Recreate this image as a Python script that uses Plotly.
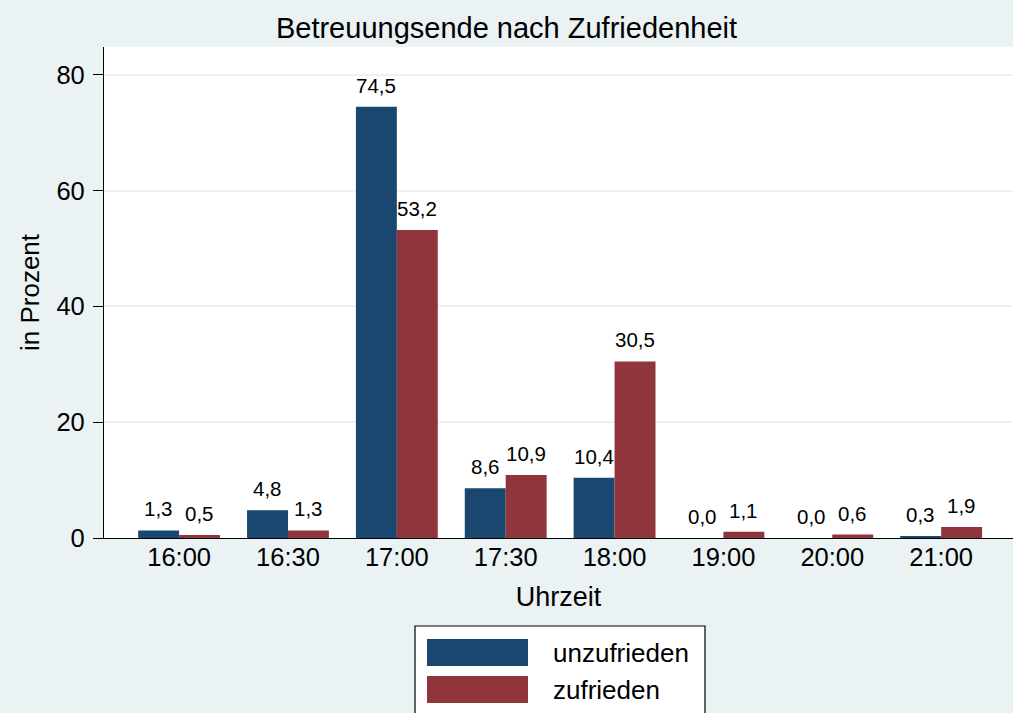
import plotly.graph_objects as go

categories = ["16:00", "16:30", "17:00", "17:30", "18:00", "19:00", "20:00", "21:00"]
unzufrieden = [1.3, 4.8, 74.5, 8.6, 10.4, 0.0, 0.0, 0.3]
zufrieden = [0.5, 1.3, 53.2, 10.9, 30.5, 1.1, 0.6, 1.9]
series_names = ["unzufrieden", "zufrieden"]
y_ticks = [0, 20, 40, 60, 80]

BLUE = "#1a476f"
RED = "#90353b"
BG = "#eaf2f3"
FONT = "Liberation Sans, Arial, Helvetica, sans-serif"

W, H = 1013, 713
L, R, T, B = 104, 0, 47, 175
pw, ph = W - L - R, H - T - B


def px(x):
    return (x - L) / pw


def py(y):
    return (H - B - y) / ph


def fmt(v):
    return f"{v:.1f}".replace(".", ",")


fig = go.Figure()
for name, vals, col in [(series_names[0], unzufrieden, BLUE), (series_names[1], zufrieden, RED)]:
    fig.add_trace(go.Bar(
        name=name, x=categories, y=vals,
        marker=dict(color=col, line=dict(width=0)),
        showlegend=False,
    ))

# value labels
bar_px = pw / (7.66 + 0.69) * 0.752 / 2
for vals, shift in [(unzufrieden, -bar_px / 2), (zufrieden, bar_px / 2)]:
    for c, v in zip(categories, vals):
        fig.add_annotation(
            x=c, y=v, xref="x", yref="y", text=fmt(v), showarrow=False,
            xshift=shift, yshift=8, yanchor="bottom",
            font=dict(size=20.5, color="black", family=FONT),
        )

# custom legend
fig.add_shape(type="rect", xref="paper", yref="paper",
              x0=px(415), x1=px(705), y0=py(730), y1=py(626),
              fillcolor="white", line=dict(color="black", width=1.2), layer="above")
for i, (name, col) in enumerate([(series_names[0], BLUE), (series_names[1], RED)]):
    top = 639 + i * 37
    fig.add_shape(type="rect", xref="paper", yref="paper",
                  x0=px(427), x1=px(528), y0=py(top + 27), y1=py(top),
                  fillcolor=col, line=dict(width=0), layer="above")
    fig.add_annotation(x=px(551), y=py(top + 14), xref="paper", yref="paper",
                       text=name, showarrow=False, xanchor="left", yanchor="middle",
                       font=dict(size=26, color="black", family=FONT))

fig.update_layout(
    width=W, height=H,
    margin=dict(l=L, r=R, t=T, b=B, pad=0),
    paper_bgcolor=BG, plot_bgcolor="white",
    barmode="group", bargap=0.248, bargroupgap=0,
    font=dict(family=FONT, color="black", size=25.5),
    title=dict(text="Betreuungsende nach Zufriedenheit", x=px(558.5), xanchor="center",
               y=1 - 28 / H, yanchor="middle", font=dict(size=29, family=FONT)),
    xaxis=dict(
        range=[-0.69, 7.66], showgrid=False, showline=True, linecolor="black", linewidth=1.2,
        ticks="", ticklabelstandoff=-4,
        tickfont=dict(size=25.5), title=dict(text="Uhrzeit", font=dict(size=27), standoff=17),
    ),
    yaxis=dict(
        range=[0, 84.8], tickvals=y_ticks, showgrid=True, gridcolor=BG, gridwidth=1.5,
        showline=True, linecolor="black", linewidth=1.2, ticks="outside", ticklen=10,
        tickcolor="black", tickfont=dict(size=25.5), zeroline=False, ticklabelstandoff=3,
        title=dict(text="in Prozent", font=dict(size=26), standoff=9),
    ),
)

fig.write_html(
    "out.html",
    config={"displayModeBar": False},
    post_script="document.body.style.margin='0';document.body.style.overflow='hidden';",
)
